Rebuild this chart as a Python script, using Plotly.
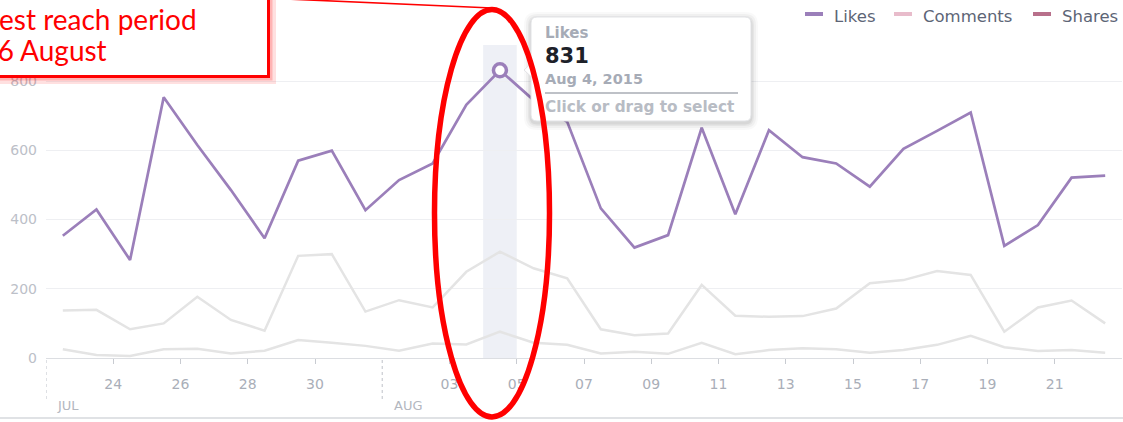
import plotly.graph_objects as go

# ---------------- data ----------------
days = ["2015-07-22", "2015-07-23", "2015-07-24", "2015-07-25", "2015-07-26", "2015-07-27",
        "2015-07-28", "2015-07-29", "2015-07-30", "2015-07-31", "2015-08-01", "2015-08-02",
        "2015-08-03", "2015-08-04", "2015-08-05", "2015-08-06", "2015-08-07", "2015-08-08",
        "2015-08-09", "2015-08-10", "2015-08-11", "2015-08-12", "2015-08-13", "2015-08-14",
        "2015-08-15", "2015-08-16", "2015-08-17", "2015-08-18", "2015-08-19", "2015-08-20",
        "2015-08-21", "2015-08-22"]
likes = [353, 429, 283, 753, 615, 485, 346, 570, 599, 427, 514, 562, 731, 831, 745, 682,
         432, 319, 355, 665, 415, 658, 580, 562, 495, 604, 656, 709, 324, 384, 521, 527]
comments = [137, 139, 83, 100, 177, 110, 79, 295, 300, 134, 167, 146, 249, 307, 259, 230,
            83, 66, 71, 211, 122, 119, 121, 143, 216, 225, 251, 240, 76, 146, 166, 100]
shares = [25, 9, 6, 25, 27, 13, 21, 52, 44, 35, 21, 42, 39, 76, 44, 38,
          13, 18, 12, 44, 11, 23, 28, 25, 15, 23, 38, 64, 31, 20, 23, 15]
tick_days = ["2015-07-24", "2015-07-26", "2015-07-28", "2015-07-30", "2015-08-03", "2015-08-05",
             "2015-08-07", "2015-08-09", "2015-08-11", "2015-08-13", "2015-08-15", "2015-08-17",
             "2015-08-19", "2015-08-21"]
y_ticks = [0, 200, 400, 600, 800]
month_starts = ["2015-07-22", "2015-08-01"]
month_labels = ["JUL", "AUG"]
series_names = ["Likes", "Comments", "Shares"]
legend_colors = ["#9b7fba", "#e8bccb", "#b8708b"]
hl_day, hl_next = "2015-08-04", "2015-08-05"
hl_index = 13

x_mid = [d + " 12:00" for d in days]

# ---------------- geometry helpers (pixel -> paper) ----------------
W_, H_ = 1123, 422
L, R, T, B = 46, 1, 45, 64
PW, PH = W_ - L - R, H_ - T - B


def px(x):
    return (x - L) / PW


def py(y):
    return (T + PH - y) / PH


def rrect(x0, y0, x1, y1, r):
    pts = [
        f"M {px(x0 + r)},{py(y0)}", f"L {px(x1 - r)},{py(y0)}",
        f"Q {px(x1)},{py(y0)} {px(x1)},{py(y0 + r)}", f"L {px(x1)},{py(y1 - r)}",
        f"Q {px(x1)},{py(y1)} {px(x1 - r)},{py(y1)}", f"L {px(x0 + r)},{py(y1)}",
        f"Q {px(x0)},{py(y1)} {px(x0)},{py(y1 - r)}", f"L {px(x0)},{py(y0 + r)}",
        f"Q {px(x0)},{py(y0)} {px(x0 + r)},{py(y0)}", "Z",
    ]
    return " ".join(pts)


GREY_LINE = "#e4e4e4"
FONT = "DejaVu Sans"

fig = go.Figure()
fig.add_trace(go.Scatter(x=x_mid, y=comments, mode="lines", name="Comments",
                         line=dict(color=GREY_LINE, width=2.5), hoverinfo="skip"))
fig.add_trace(go.Scatter(x=x_mid, y=shares, mode="lines", name="Shares",
                         line=dict(color=GREY_LINE, width=2.5), hoverinfo="skip"))
fig.add_trace(go.Scatter(x=x_mid, y=likes, mode="lines", name="Likes",
                         line=dict(color=legend_colors[0], width=2.7), hoverinfo="skip"))
fig.add_trace(go.Scatter(x=[x_mid[hl_index]], y=[likes[hl_index]], mode="markers",
                         marker=dict(size=13, color="white",
                                     line=dict(color=legend_colors[0], width=3.5)),
                         hoverinfo="skip"))

shapes = []
# highlighted day band
shapes.append(dict(type="rect", xref="x", yref="paper", x0=hl_day, x1=hl_next, y0=0, y1=1,
                   fillcolor="#eef0f6", line=dict(width=0), layer="between"))
# month dotted separators
for m in month_starts:
    shapes.append(dict(type="line", xref="x", yref="paper", x0=m, x1=m, y0=py(360), y1=py(399),
                       line=dict(color="#c9ccd2", width=1.2, dash="dot")))
# bottom border line
shapes.append(dict(type="line", xref="paper", yref="paper", x0=px(0), x1=px(1123),
                   y0=py(418), y1=py(418), line=dict(color="#d6d8dc", width=1.5)))
# legend swatches
sw = [(805, 823), (894, 912), (1033, 1051)]
for (a, b), c in zip(sw, legend_colors):
    shapes.append(dict(type="line", xref="paper", yref="paper", x0=px(a), x1=px(b),
                       y0=py(14), y1=py(14), line=dict(color=c, width=4)))
# tooltip shadow + box
for g, op in [(7, 0.025), (5, 0.035), (3, 0.045), (1.5, 0.06)]:
    shapes.append(dict(type="path", xref="paper", yref="paper",
                       path=rrect(531 - g, 17 - g + 2, 751 + g, 121 + g + 2, 6 + g),
                       fillcolor=f"rgba(0,0,0,{op})", line=dict(width=0), layer="above"))
shapes.append(dict(type="path", xref="paper", yref="paper", path=rrect(531, 17, 751, 121, 6),
                   fillcolor="white", line=dict(color="#e2e3e6", width=1), layer="above"))
shapes.append(dict(type="path", xref="paper", yref="paper",
                   path=f"M {px(531.5)},{py(63)} L {px(524)},{py(70)} L {px(531.5)},{py(77)} Z",
                   fillcolor="white", line=dict(color="#e2e3e6", width=1), layer="above"))
shapes.append(dict(type="line", xref="paper", yref="paper", x0=px(532), x1=px(532),
                   y0=py(63.5), y1=py(76.5), line=dict(color="white", width=2), layer="above"))
# tooltip divider
shapes.append(dict(type="line", xref="paper", yref="paper", x0=px(545), x1=px(738),
                   y0=py(93), y1=py(93), line=dict(color="#a9adb4", width=1.5), layer="above"))
# red callout box with glow
for g, op, w in [(5, 0.12, 8), (3, 0.2, 5)]:
    shapes.append(dict(type="rect", xref="paper", yref="paper", x0=px(-20), x1=px(269 + g - 2),
                       y0=py(-20), y1=py(77 + g - 2),
                       line=dict(color=f"rgba(255,0,0,{op})", width=w), layer="above"))
shapes.append(dict(type="rect", xref="paper", yref="paper", x0=px(-20), x1=px(268.5),
                   y0=py(-20), y1=py(76.5), fillcolor="white",
                   line=dict(color="#ff0000", width=3), layer="above"))
# connector line
shapes.append(dict(type="line", xref="paper", yref="paper", x0=px(268), x1=px(492),
                   y0=py(-1.8), y1=py(8), line=dict(color="#ff0000", width=1.6), layer="above"))
# red ellipse
shapes.append(dict(type="circle", xref="paper", yref="paper", x0=px(434.5), x1=px(549.5),
                   y0=py(9.5), y1=py(417), line=dict(color="#ff0000", width=5.5), layer="above"))

ann = []
# legend texts
for name, x in zip(series_names, [832, 921, 1060]):
    ann.append(dict(xref="paper", yref="paper", x=px(x), y=py(16.5), xanchor="left",
                    yanchor="middle", text=name, showarrow=False,
                    font=dict(family=FONT, size=16.5, color="#5d6576")))
# month labels
for m, lab in zip([px(55), px(392)], month_labels):
    ann.append(dict(xref="paper", yref="paper", x=m, y=py(405), xanchor="left",
                    yanchor="middle", text=lab, showarrow=False,
                    font=dict(family=FONT, size=13, color="#b3b7bf")))
# tooltip texts
tip = [("<b>Likes</b>", 33, 15, "#a6abb6"),
       (f"<b>{likes[hl_index]}</b>", 55.5, 21, "#1d2129"),
       ("<b>Aug 4, 2015</b>", 79, 14.5, "#a6abb6"),
       ("<b>Click or drag to select</b>", 107, 15.3, "#b8bcc4")]
for t, yy, s, c in tip:
    ann.append(dict(xref="paper", yref="paper", x=px(543), y=py(yy), xanchor="left",
                    yanchor="middle", text=t, showarrow=False,
                    font=dict(family=FONT, size=s, color=c)))
# red callout text
ann.append(dict(xref="paper", yref="paper", x=px(199), y=py(18.5), xanchor="right",
                yanchor="middle", text="Highest reach period", showarrow=False,
                font=dict(family="Lato", size=28, color="#ff0000")))
ann.append(dict(xref="paper", yref="paper", x=px(109), y=py(50.5), xanchor="right",
                yanchor="middle", text="3-6 August", showarrow=False,
                font=dict(family="Lato", size=28, color="#ff0000")))

fig.update_layout(
    width=W_, height=H_,
    margin=dict(l=L, r=R, t=T, b=B),
    paper_bgcolor="white", plot_bgcolor="white",
    showlegend=False, hovermode=False,
    shapes=shapes, annotations=ann,
    xaxis=dict(type="date", range=["2015-07-22", "2015-08-23"], tickvals=tick_days,
               tickformat="%d", ticks="outside", ticklen=5, tickcolor="#c8cbd1",
               showgrid=False, showline=True, linecolor="#dcdee2", linewidth=1,
               tickfont=dict(family=FONT, size=14, color="#a9aeb8"),
               ticklabelstandoff=8, zeroline=False, fixedrange=True),
    yaxis=dict(range=[0, 904], tickvals=y_ticks, showgrid=True, gridcolor="#eeeff2",
               gridwidth=1, zeroline=False, showline=False, ticks="",
               tickfont=dict(family=FONT, size=14, color="#bcc0c8"),
               ticklabelstandoff=8, fixedrange=True),
)

fig.write_html("out.html", config={"displayModeBar": False},
               post_script="document.body.style.margin='0';document.body.style.overflow='hidden';")
